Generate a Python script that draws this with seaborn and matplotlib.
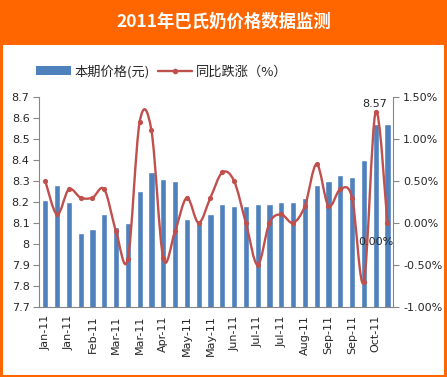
import numpy as np
import pandas as pd
import matplotlib
matplotlib.use("Agg")
import matplotlib.pyplot as plt
from matplotlib.path import Path
from matplotlib.patches import PathPatch, Rectangle, Patch
from matplotlib.lines import Line2D
import seaborn as sns

# dane (30 okresow, co drugi podpisany)
price = [8.21, 8.28, 8.20, 8.05, 8.07, 8.14, 8.08, 8.10, 8.25, 8.34,
         8.31, 8.30, 8.12, 8.10, 8.14, 8.19, 8.18, 8.18, 8.19, 8.19,
         8.20, 8.20, 8.22, 8.28, 8.30, 8.33, 8.32, 8.40, 8.57, 8.57]
yoy = [0.50, 0.10, 0.40, 0.30, 0.30, 0.40, -0.10, -0.43, 1.20, 1.10,
       -0.42, -0.10, 0.30, 0.00, 0.30, 0.60, 0.50, 0.00, -0.50, 0.00,
       0.10, 0.00, 0.20, 0.70, 0.20, 0.40, 0.30, -0.70, 1.32, 0.00]
tick_labels = ["Jan-11", "Jan-11", "Feb-11", "Mar-11", "Mar-11", "Apr-11", "May-11",
               "May-11", "Jun-11", "Jul-11", "Jul-11", "Aug-11", "Sep-11", "Sep-11", "Oct-11"]
title = "2011年巴氏奶价格数据监测"
bar_name = "本期价格(元)"
line_name = "同比跌涨（%）"

blue = "#4F81BD"
red = "#C0504D"
orange = "#FF6600"
grey = "#868686"

sns.set_style("white")
plt.rcParams["font.family"] = ["DejaVu Sans", "Noto Sans CJK SC"]

df = pd.DataFrame({"slot": range(len(price)), "price": price, "yoy": yoy})

fig = plt.figure(figsize=(4.47, 3.77), dpi=100)
ax = fig.add_axes([0.088, 0.186, 0.792, 0.557])

sns.barplot(data=df, x="slot", y="price", color=blue, saturation=1, width=0.52, ax=ax)
ax.set_ylim(7.7, 8.7)
ax.set_yticks(np.arange(7.7, 8.71, 0.1))
ax.set_yticklabels([f"{v:g}" for v in np.round(np.arange(7.7, 8.71, 0.1), 1)], fontsize=8)
ax.set_xlim(-0.5, len(price) - 0.5)

# podpisy co drugi slupek, kreski na granicach
ax.set_xticks(range(0, len(price), 2))
ax.set_xticklabels(tick_labels, rotation=90, fontsize=8)
ax.set_xticks(np.arange(-0.5, len(price), 1), minor=True)
ax.tick_params(axis="x", which="major", length=0, pad=6)
ax.tick_params(axis="x", which="minor", length=4, color=grey, width=0.8, direction="out")
ax.tick_params(axis="y", length=4, color=grey, width=0.8, direction="out", left=True, pad=3)
ax.set_xlabel("")
ax.set_ylabel("")

for s in ["left", "bottom", "right"]:
    ax.spines[s].set_color(grey)
    ax.spines[s].set_linewidth(0.8)
ax.spines["top"].set_visible(False)

# os prawa - zmiana r/r
ax2 = ax.twinx()
ax2.set_ylim(-1.0, 1.5)
ax2.set_yticks(np.arange(-1.0, 1.51, 0.5))
ax2.set_yticklabels([f"{v:.2f}%" for v in np.arange(-1.0, 1.51, 0.5)], fontsize=8)
ax2.tick_params(axis="y", length=4, color=grey, width=0.8, direction="out", right=True, pad=3)
for s in ["left", "bottom", "right", "top"]:
    ax2.spines[s].set_visible(False)

# wygladzona linia (Bezier jak w Excelu)
xs = df["slot"].to_numpy(dtype=float)
ys = df["yoy"].to_numpy(dtype=float)
pts = np.column_stack([xs, ys])
verts = [pts[0]]
codes = [Path.MOVETO]
n = len(pts)
for i in range(n - 1):
    p0 = pts[max(i - 1, 0)]
    p1 = pts[i]
    p2 = pts[i + 1]
    p3 = pts[min(i + 2, n - 1)]
    c1 = p1 + (p2 - p0) / 6.0
    c2 = p2 - (p3 - p1) / 6.0
    verts += [c1, c2, p2]
    codes += [Path.CURVE4] * 3
ax2.add_patch(PathPatch(Path(verts, codes), facecolor="none", edgecolor=red, lw=1.7))
sns.scatterplot(data=df, x="slot", y="yoy", color=red, s=14, edgecolor=red, linewidth=0, ax=ax2, zorder=3)
ax2.set_xlabel("")
ax2.set_ylabel("")

ax.annotate(f"{price[-2]:.2f}", (len(price) - 2, price[-2]), xytext=(-1, 11),
            textcoords="offset points", ha="center", va="bottom", fontsize=8)
ax2.annotate(f"{yoy[-1]:.2f}%", (len(yoy) - 1, yoy[-1]), xytext=(-8, -14),
             textcoords="offset points", ha="center", va="center", fontsize=8)

# legenda
handles = [Patch(facecolor=blue, edgecolor="none"),
           Line2D([], [], color=red, lw=1.7, marker="o", markersize=3)]
fig.legend(handles, [bar_name, line_name], loc="center left", bbox_to_anchor=(0.055, 0.81),
           ncol=2, frameon=False, handlelength=2.6, handleheight=0.7, columnspacing=0.6,
           handletextpad=0.3, prop={"family": ["Noto Sans CJK SC", "DejaVu Sans"], "size": 9.5})

# naglowek i ramka
fig.patches.append(Rectangle((0, 0.881), 1, 0.119, transform=fig.transFigure,
                             facecolor=orange, edgecolor="none", zorder=0))
fig.patches.append(Rectangle((0.002, 0.003), 0.994, 0.995, transform=fig.transFigure,
                             facecolor="none", edgecolor=orange, lw=2.2, zorder=5))
fig.text(0.5, 0.941, title, ha="center", va="center", color="white", fontsize=12.5,
         fontweight="bold", family=["Noto Sans CJK SC", "DejaVu Sans"])

fig.savefig("out.png", dpi=100)
